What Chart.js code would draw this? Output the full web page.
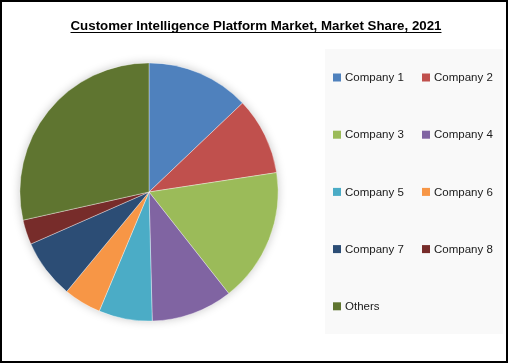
<!DOCTYPE html>
<html>
<head>
<meta charset="utf-8">
<script src="https://cdn.jsdelivr.net/npm/chart.js@4.4.0/dist/chart.umd.min.js"></script>
<style>
    html, body { margin: 0; padding: 0; background: #fff; }
    #chart { display: block; }
</style>
</head>
<body>
<canvas id="chart" width="509" height="364"></canvas>
<script>
// ========================================
// Customer Intelligence Platform — market share pie
// ========================================
const titleText = 'Customer Intelligence Platform Market, Market Share, 2021';
const companies = ['Company 1', 'Company 2', 'Company 3', 'Company 4', 'Company 5',
    'Company 6', 'Company 7', 'Company 8', 'Others'];
const shares = [12.9, 9.7, 16.8, 10.2, 6.7, 4.7, 7.4, 3.1, 28.5];
const sliceColors = ['#4F81BD', '#C0504D', '#9BBB59', '#8064A2', '#4BACC6',
    '#F79646', '#2C4D75', '#772C2A', '#5F7530'];

const FONT = '"Liberation Sans", Arial, sans-serif';

// soft shadow under the pie, title, legend grid and frame
const decorPlugin = {
    id: 'decor',
    beforeDatasetsDraw(chart) {
        const arc = chart.getDatasetMeta(0).data[0];
        if (!arc) return;
        const ctx = chart.ctx;
        ctx.save();
        ctx.shadowColor = 'rgba(0, 0, 0, 0.22)';
        ctx.shadowBlur = 10;
        ctx.beginPath();
        ctx.arc(arc.x, arc.y, arc.outerRadius, 0, Math.PI * 2);
        ctx.fillStyle = '#fff';
        ctx.fill();
        ctx.restore();
    },
    afterDraw(chart) {
        const ctx = chart.ctx;
        ctx.save();

        // title
        ctx.font = 'bold 13.3px ' + FONT;
        ctx.fillStyle = '#000';
        ctx.textAlign = 'center';
        ctx.textBaseline = 'alphabetic';
        ctx.fillText(titleText, 256, 30);
        const w = ctx.measureText(titleText).width;
        ctx.fillRect(256 - w / 2, 32, w, 1);

        // legend box
        ctx.fillStyle = '#f9f9f9';
        ctx.fillRect(325, 49, 178, 285);

        // legend items, two per row
        ctx.font = '11.5px ' + FONT;
        ctx.textAlign = 'left';
        ctx.textBaseline = 'middle';
        companies.forEach((name, i) => {
            const col = i % 2;
            const row = Math.floor(i / 2);
            const x = col === 0 ? 333 : 422;
            const y = 77.5 + row * 57.2;
            ctx.fillStyle = sliceColors[i];
            ctx.fillRect(x, y - 4, 8, 8);
            ctx.fillStyle = '#1a1a1a';
            ctx.fillText(name, x + 12, y + 0.5);
        });

        // outer frame
        ctx.strokeStyle = '#000';
        ctx.lineWidth = 2;
        ctx.strokeRect(1, 1, 506, 361);
        ctx.restore();
    }
};

new Chart(document.getElementById('chart'), {
    type: 'pie',
    data: {
        labels: companies,
        datasets: [{
            data: shares,
            backgroundColor: sliceColors,
            borderColor: 'rgba(255, 255, 255, 0.45)',
            borderWidth: 0.8
        }]
    },
    options: {
        responsive: false,
        animation: false,
        layout: {
            padding: { left: 19.5, right: 230.5, top: 62.5, bottom: 42.5 }
        },
        plugins: {
            legend: { display: false },
            title: { display: false },
            tooltip: { enabled: false }
        }
    },
    plugins: [decorPlugin]
});
</script>
</body>
</html>
